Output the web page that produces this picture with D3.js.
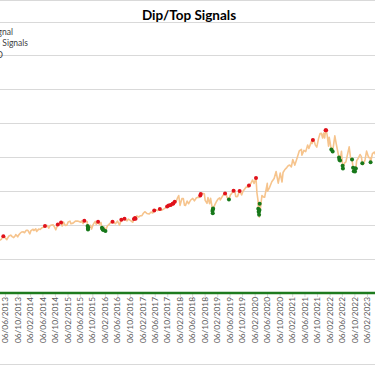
<!DOCTYPE html>
<html><head><meta charset="utf-8">
<script src="https://cdn.jsdelivr.net/npm/d3@7"></script>
<style>html,body{margin:0;padding:0;background:#fff;overflow:hidden}svg{display:block}</style>
</head><body><svg id="c" width="375" height="366"></svg>
<script>
// ---- data ----
const title = "Dip/Top Signals";
const legendLabels = ["Dip Signal", "Top Signals", "SPX USD"];
const tickLabels = ["06/06/2013","06/10/2013","06/02/2014","06/06/2014","06/10/2014","06/02/2015","06/06/2015","06/10/2015","06/02/2016","06/06/2016","06/10/2016","06/02/2017","06/06/2017","06/10/2017","06/02/2018","06/06/2018","06/10/2018","06/02/2019","06/06/2019","06/10/2019","06/02/2020","06/06/2020","06/10/2020","06/02/2021","06/06/2021","06/10/2021","06/02/2022","06/06/2022","06/10/2022","06/02/2023"];
const yTicks = [0,1000,2000,3000,4000,5000,6000,7000,8000];
const priceDates = ["2013-04-15","2013-05-01","2013-05-15","2013-05-21","2013-06-03","2013-06-24","2013-07-01","2013-07-15","2013-08-01","2013-08-15","2013-08-30","2013-09-16","2013-09-19","2013-10-08","2013-10-15","2013-11-01","2013-11-15","2013-12-02","2013-12-13","2013-12-31",
"2014-01-15","2014-02-03","2014-02-14","2014-03-07","2014-03-14","2014-04-02","2014-04-11","2014-05-01","2014-05-15","2014-06-02","2014-06-16","2014-07-01","2014-07-24","2014-08-07","2014-08-21","2014-09-02","2014-09-18","2014-10-01","2014-10-15","2014-11-03","2014-11-14","2014-12-05","2014-12-16","2014-12-29",
"2015-01-15","2015-01-30","2015-02-13","2015-03-02","2015-03-11","2015-04-01","2015-04-24","2015-05-15","2015-05-29","2015-06-15","2015-06-23","2015-07-08","2015-07-20","2015-08-05","2015-08-17","2015-08-21","2015-08-24","2015-08-25","2015-08-26","2015-09-01","2015-09-16","2015-09-29","2015-10-15","2015-11-03","2015-11-13","2015-12-01","2015-12-14","2015-12-29",
"2016-01-08","2016-01-13","2016-01-15","2016-01-20","2016-02-01","2016-02-11","2016-03-01","2016-03-15","2016-04-01","2016-04-20","2016-05-02","2016-05-19","2016-06-08","2016-06-27","2016-07-15","2016-08-15","2016-09-09","2016-09-22","2016-10-14","2016-11-04","2016-11-15","2016-11-25","2016-12-01","2016-12-13","2016-12-30",
"2017-01-15","2017-02-01","2017-02-15","2017-03-01","2017-03-21","2017-04-13","2017-05-01","2017-05-17","2017-06-01","2017-06-19","2017-07-03","2017-07-26","2017-08-10","2017-08-31","2017-09-15","2017-10-05","2017-10-20","2017-11-08","2017-11-15","2017-11-28","2017-12-04","2017-12-18","2017-12-29",
"2018-01-12","2018-01-26","2018-02-08","2018-02-26","2018-03-12","2018-03-23","2018-04-02","2018-04-18","2018-05-03","2018-05-21","2018-06-12","2018-06-28","2018-07-16","2018-07-27","2018-08-15","2018-08-24","2018-08-29","2018-09-20","2018-10-03","2018-10-11","2018-10-29","2018-11-07","2018-11-23","2018-12-03","2018-12-14","2018-12-21","2018-12-24","2018-12-26","2018-12-27","2018-12-31",
"2019-01-15","2019-01-31","2019-02-15","2019-03-01","2019-03-08","2019-04-01","2019-04-23","2019-04-30","2019-05-13","2019-05-31","2019-06-14","2019-06-28","2019-07-15","2019-07-26","2019-08-05","2019-08-14","2019-08-23","2019-09-12","2019-10-02","2019-10-15","2019-11-01","2019-11-15","2019-12-02","2019-12-12","2019-12-31",
"2020-01-17","2020-01-31","2020-02-19","2020-02-28","2020-03-09","2020-03-12","2020-03-13","2020-03-16","2020-03-18","2020-03-20","2020-03-23","2020-03-24","2020-03-26","2020-04-01","2020-04-17","2020-05-01","2020-05-13","2020-06-08","2020-06-11","2020-07-01","2020-07-22","2020-08-14","2020-09-02","2020-09-23","2020-10-12","2020-10-30","2020-11-09","2020-11-25","2020-12-15","2020-12-31",
"2021-01-15","2021-01-29","2021-02-12","2021-03-04","2021-03-26","2021-04-16","2021-05-07","2021-05-12","2021-06-01","2021-06-18","2021-07-07","2021-07-19","2021-08-13","2021-08-19","2021-08-27","2021-09-02","2021-09-20","2021-10-04","2021-10-21","2021-11-05","2021-11-18","2021-11-30","2021-12-10","2021-12-20","2021-12-29",
"2022-01-03","2022-01-13","2022-01-27","2022-02-02","2022-02-23","2022-03-08","2022-03-29","2022-04-12","2022-04-29","2022-05-09","2022-05-12","2022-05-19","2022-06-02","2022-06-13","2022-06-16","2022-07-01","2022-07-15","2022-08-16","2022-08-31","2022-09-13","2022-09-23","2022-09-30","2022-10-12","2022-10-13","2022-10-20","2022-10-28","2022-11-10","2022-11-30","2022-12-13","2022-12-22","2022-12-28",
"2023-01-05","2023-01-18","2023-02-02","2023-02-22","2023-03-08","2023-03-13","2023-03-31","2023-04-18","2023-05-04","2023-05-19","2023-06-01"];
const priceValues = [1555,1582,1658,1669,1640,1573,1614,1682,1706,1661,1633,1697,1725,1655,1698,1761,1798,1800,1775,1848,
1848,1741,1838,1878,1841,1890,1815,1883,1870,1924,1937,1973,1987,1910,1992,2002,2011,1946,1862,2017,2039,2075,1972,2090,
1992,1995,2096,2117,2040,2059,2117,2123,2107,2084,2124,2046,2128,2099,2102,1971,1893,1868,1940,1914,1995,1884,2023,2109,2023,2102,2021,2078,
1922,1890,1880,1859,1939,1829,1978,2015,2072,2102,2081,2040,2119,2000,2162,2190,2128,2177,2133,2085,2180,2213,2191,2271,2239,
2275,2279,2349,2395,2344,2329,2388,2357,2430,2453,2429,2477,2438,2471,2500,2552,2575,2594,2564,2627,2639,2690,2674,
2786,2873,2581,2780,2783,2588,2582,2708,2630,2733,2787,2716,2798,2819,2818,2875,2914,2930,2925,2728,2641,2814,2633,2790,2600,2417,2351,2468,2489,2507,
2610,2704,2775,2804,2743,2868,2934,2946,2812,2752,2887,2942,3014,3026,2845,2840,2847,3009,2888,2996,3067,3120,3114,3168,3231,
3330,3226,3386,2954,2747,2481,2711,2386,2398,2305,2237,2447,2630,2471,2875,2831,2820,3232,3002,3115,3276,3373,3580,3237,3535,3270,3550,3630,3695,3756,
3768,3714,3934,3768,3975,4185,4232,4063,4202,4166,4358,4258,4468,4405,4509,4537,4358,4300,4549,4697,4704,4567,4712,4568,4793,
4797,4659,4326,4589,4225,4170,4632,4397,4132,3991,3930,3901,4177,3750,3667,3825,3863,4305,3955,3932,3693,3586,3577,3670,3665,3901,3956,4080,4020,3822,3783,
3808,3929,4180,3991,3992,3855,4109,4154,4061,4192,4221];
const topDates = ["2013-05-21","2014-07-01","2014-11-03","2014-12-05","2015-07-20","2015-12-01","2016-04-20","2016-07-15","2016-08-15","2016-11-15","2016-11-25","2016-12-01","2017-06-01","2017-07-26","2017-10-05","2017-10-20","2017-11-08","2017-11-28","2017-12-04","2017-12-18","2018-08-24","2018-08-29","2019-04-23","2019-07-15","2019-09-12","2019-12-12","2020-02-19","2021-08-27","2021-12-29","2022-01-03"];
const topValues = [1669,1973,2017,2075,2128,2102,2102,2162,2190,2180,2213,2191,2430,2477,2552,2575,2594,2627,2639,2690,2875,2914,2934,3014,3009,3168,3386,4509,4793,4797];
const dipDates = ["2015-08-21","2015-08-24","2015-08-25","2015-08-26","2016-01-08","2016-01-13","2016-01-15","2016-01-20","2016-02-11","2018-12-21","2018-12-24","2018-12-26","2018-12-27","2019-05-31","2020-03-12","2020-03-16","2020-03-18","2020-03-20","2020-03-24","2020-03-26","2022-02-23","2022-03-08","2022-05-09","2022-05-12","2022-05-19","2022-06-13","2022-06-16","2022-09-13","2022-09-23","2022-09-30","2022-10-12","2022-10-13","2022-10-20","2022-12-22","2023-03-13"];
const dipValues = [1971,1893,1868,1940,1922,1890,1880,1859,1829,2417,2351,2468,2489,2752,2481,2386,2398,2305,2447,2630,4225,4170,3991,3930,3901,3750,3667,3932,3693,3586,3577,3670,3665,3822,3855];

// ---- chart ----
const svg = d3.select("#c");
const W = 375, H = 366;
const parseISO = d3.timeParse("%Y-%m-%d");
const parseTick = d3.timeParse("%d/%m/%Y");
const x = d3.scaleTime().domain([parseTick("06/06/2013"), parseTick("06/02/2023")]).range([5, 367]);
const y = d3.scaleLinear().domain([0, 8000]).range([293, 21.5]);
const font = "Lato, 'Open Sans', sans-serif";

// chart border
svg.append("rect").attr("x", -5).attr("y", 0.5).attr("width", W + 10).attr("height", 364)
  .attr("fill", "#fff").attr("stroke", "#d9d9d9").attr("stroke-width", 1);

// gridlines
svg.append("g").selectAll("line").data(yTicks.slice(1)).join("line")
  .attr("x1", -5).attr("x2", W + 5)
  .attr("y1", d => Math.round(y(d)) + 0.5).attr("y2", d => Math.round(y(d)) + 0.5)
  .attr("stroke", "#d9d9d9").attr("stroke-width", 1);

// x axis labels
const tickDates = tickLabels.map(parseTick);
const xAxis = d3.axisBottom(x).tickValues(tickDates).tickSize(3).tickFormat(d3.timeFormat("%d/%m/%Y"));
const gx = svg.append("g").attr("transform", "translate(0,294)").call(xAxis);
gx.select(".domain").remove();
gx.selectAll(".tick line").attr("stroke", "#d9d9d9");
gx.selectAll(".tick text")
  .attr("transform", "rotate(-90)")
  .attr("x", -3).attr("y", 0).attr("dy", "0.32em")
  .attr("text-anchor", "end")
  .style("font-family", font).style("font-size", "8.3px").attr("fill", "#595959");

// price line
const pts = priceDates.map((d, i) => ({date: parseISO(d), v: priceValues[i]}));
svg.append("path").datum(pts)
  .attr("fill", "none").attr("stroke", "#f6c48d").attr("stroke-width", 1.6).attr("stroke-linejoin", "round")
  .attr("d", d3.line().x(d => x(d.date)).y(d => y(d.v)));

// zero line (dip signal baseline)
svg.append("line").attr("x1", -5).attr("x2", W + 5).attr("y1", y(0)).attr("y2", y(0))
  .attr("stroke", "#1e7b1e").attr("stroke-width", 2.5);

// signals
const tops = topDates.map((d, i) => ({date: parseISO(d), v: topValues[i]}));
const dips = dipDates.map((d, i) => ({date: parseISO(d), v: dipValues[i]}));
svg.append("g").selectAll("circle").data(tops).join("circle")
  .attr("cx", d => x(d.date)).attr("cy", d => y(d.v)).attr("r", 2).attr("fill", "#e0121b");
svg.append("g").selectAll("circle").data(dips).join("circle")
  .attr("cx", d => x(d.date)).attr("cy", d => y(d.v)).attr("r", 2).attr("fill", "#17781a");

// title
svg.append("text").attr("x", 189).attr("y", 19.5).attr("text-anchor", "middle")
  .style("font-family", font).style("font-weight", "bold").style("font-size", "13.5px").attr("fill", "#000")
  .text(title);

// legend (left part lies outside the visible frame, as in the reference)
const legendEnds = [13, 28, 3];
const legendY = [34.5, 46, 57.5];
svg.append("g").selectAll("text").data(legendLabels).join("text")
  .attr("x", (d, i) => legendEnds[i]).attr("y", (d, i) => legendY[i]).attr("text-anchor", "end")
  .style("font-family", font).style("font-size", "8.5px").attr("fill", "#404040")
  .text(d => d);
</script></body></html>
